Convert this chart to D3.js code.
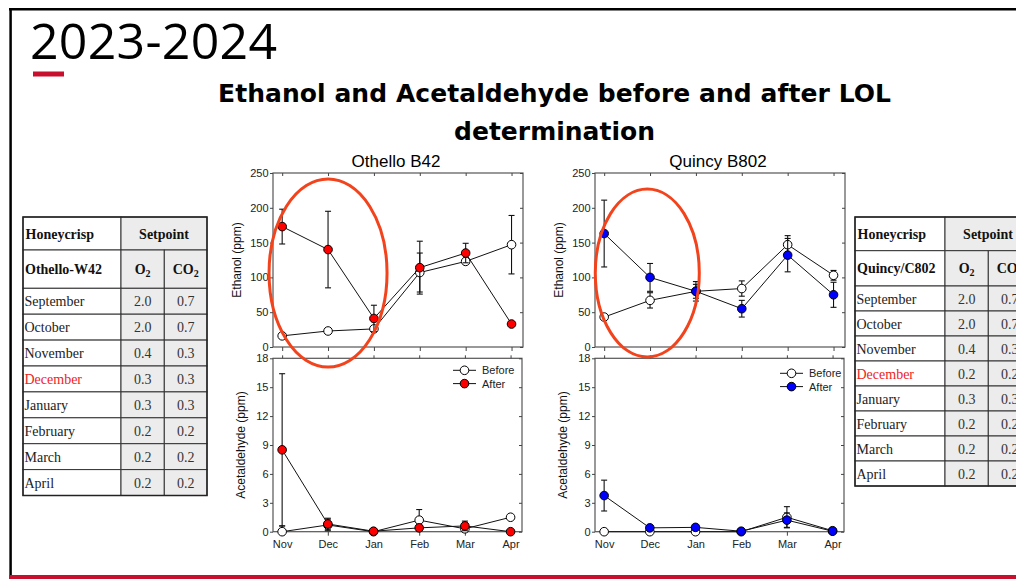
<!DOCTYPE html>
<html>
<head>
<meta charset="utf-8">
<script src="https://cdn.jsdelivr.net/npm/d3@7"></script>
<style>
  body { margin: 0; background: #fff; }
  svg { display: block; }
</style>
</head>
<body>
<script>
// chart data
var months = ["Nov", "Dec", "Jan", "Feb", "Mar", "Apr"];
var ethTicks = [0, 50, 100, 150, 200, 250];
var aceTicks = [0, 3, 6, 9, 12, 15, 18];

// Othello B42
var othEthBefore    = [16, 23, 26, 107, 123, 147];
var othEthBeforeErr = [0, 0, 0, 28, 4, 42];
var othEthAfter     = [173, 140, 41, 114, 135, 33];
var othEthAfterErr  = [25, 55, 19, 38, 14, 0];
var othAceBefore    = [0, 0.7, 0, 1.2, 0.3, 1.5];
var othAceBeforeErr = [0.6, 0.6, 0, 1.1, 0.3, 0];
var othAceAfter     = [8.5, 0.8, 0.05, 0.4, 0.6, 0];
var othAceAfterErr  = [7.9, 0.6, 0, 0.3, 0.5, 0];

// Quincy B802
var quiEthBefore    = [43, 67, 80, 84, 147, 103];
var quiEthBeforeErr = [0, 11, 14, 11, 13, 7];
var quiEthAfter     = [163, 100, 80, 55, 132, 75];
var quiEthAfterErr  = [48, 20, 10, 12, 24, 18];
var quiAceBefore    = [0, 0, 0, 0, 1.5, 0.1];
var quiAceBeforeErr = [0, 0, 0, 0, 1.1, 0.3];
var quiAceAfter     = [3.75, 0.4, 0.45, 0.05, 1.2, 0.05];
var quiAceAfterErr  = [1.6, 0.1, 0.1, 0, 0.75, 0];

// setpoint tables
var setMonths = ["September", "October", "November", "December", "January", "February", "March", "April"];
var othO2  = ["2.0", "2.0", "0.4", "0.3", "0.3", "0.2", "0.2", "0.2"];
var othCO2 = ["0.7", "0.7", "0.3", "0.3", "0.3", "0.2", "0.2", "0.2"];
var quiO2  = ["2.0", "2.0", "0.4", "0.2", "0.3", "0.2", "0.2", "0.2"];
var quiCO2 = ["0.7", "0.7", "0.3", "0.2", "0.3", "0.2", "0.2", "0.2"];

var W = 1016, H = 579;
var sans = "'Liberation Sans', Arial, sans-serif";
var serif = "'Liberation Serif', 'Times New Roman', serif";

var svg = d3.select("body").append("svg").attr("width", W).attr("height", H);
svg.append("rect").attr("width", W).attr("height", H).attr("fill", "#fff");

// slide frame
svg.append("line").attr("x1", 9).attr("x2", W).attr("y1", 9.2).attr("y2", 9.2)
  .attr("stroke", "#000").attr("stroke-width", 2.5);
svg.append("line").attr("x1", 10.6).attr("x2", 10.6).attr("y1", 8).attr("y2", 576)
  .attr("stroke", "#000").attr("stroke-width", 2.5);
svg.append("rect").attr("x", 9).attr("y", 575).attr("width", W).attr("height", 4).attr("fill", "#c8102e");

// titles
svg.append("text").attr("x", 30).attr("y", 59).attr("textLength", 247)
  .style("font-family", "'Open Sans', sans-serif").style("font-size", "50px").attr("fill", "#000")
  .text("2023-2024");
svg.append("rect").attr("x", 33).attr("y", 71.5).attr("width", 31).attr("height", 5).attr("fill", "#c8102e");

svg.append("text").attr("x", 218).attr("y", 102).attr("textLength", 673)
  .style("font-family", "'DejaVu Sans', sans-serif").style("font-weight", "bold").style("font-size", "25px")
  .text("Ethanol and Acetaldehyde before and after LOL");
svg.append("text").attr("x", 554.5).attr("y", 140).attr("text-anchor", "middle")
  .style("font-family", "'DejaVu Sans', sans-serif").style("font-weight", "bold").style("font-size", "25px")
  .text("determination");

function drawSeries(g, x, y, vals, errs, fill) {
  var line = d3.line().x(function(d, i) { return x(i); }).y(function(d) { return y(d); });
  g.append("path").datum(vals).attr("d", line)
    .attr("fill", "none").attr("stroke", "#111").attr("stroke-width", 1);

  var eb = g.append("g").selectAll("g").data(vals.map(function(v, i) { return {i: i, v: v, e: errs[i]}; })
    .filter(function(d) { return d.e > 0; }))
    .enter().append("g").attr("stroke", "#111").attr("stroke-width", 1.1);
  eb.append("line").attr("x1", function(d) { return x(d.i); }).attr("x2", function(d) { return x(d.i); })
    .attr("y1", function(d) { return y(Math.max(0, d.v - d.e)); }).attr("y2", function(d) { return y(d.v + d.e); });
  eb.append("line").attr("x1", function(d) { return x(d.i) - 3; }).attr("x2", function(d) { return x(d.i) + 3; })
    .attr("y1", function(d) { return y(d.v + d.e); }).attr("y2", function(d) { return y(d.v + d.e); });
  eb.append("line").attr("x1", function(d) { return x(d.i) - 3; }).attr("x2", function(d) { return x(d.i) + 3; })
    .attr("y1", function(d) { return y(Math.max(0, d.v - d.e)); }).attr("y2", function(d) { return y(Math.max(0, d.v - d.e)); });

  g.append("g").selectAll("circle").data(vals).enter().append("circle")
    .attr("cx", function(d, i) { return x(i); }).attr("cy", function(d) { return y(d); })
    .attr("r", 4.3).attr("fill", fill).attr("stroke", "#000").attr("stroke-width", 1);
}

function styleAxis(a) {
  a.select(".domain").remove();
  a.selectAll("line").attr("stroke", "#444");
  a.selectAll("text").style("font-family", sans).style("font-size", "11px").attr("fill", "#222");
}

function drawPanel(cfg) {
  var g = svg.append("g");
  var x = d3.scaleLinear().domain([-0.2, 5.25]).range([cfg.x0, cfg.x1]);
  var y = d3.scaleLinear().domain([0, cfg.max]).range([cfg.y0, cfg.y1]);
  var idx = d3.range(months.length);

  g.append("rect").attr("x", cfg.x0).attr("y", cfg.y1).attr("width", cfg.x1 - cfg.x0).attr("height", cfg.y0 - cfg.y1)
    .attr("fill", "none").attr("stroke", "#555").attr("stroke-width", 1.2);

  g.append("g").attr("transform", "translate(" + cfg.x0 + ",0)")
    .call(d3.axisLeft(y).tickValues(cfg.ticks).tickSize(3).tickPadding(1.5)).call(styleAxis);
  g.append("g").attr("transform", "translate(" + cfg.x1 + ",0)")
    .call(d3.axisRight(y).tickValues(cfg.ticks).tickSize(-3).tickFormat("")).call(styleAxis);
  g.append("g").attr("transform", "translate(0," + cfg.y1 + ")")
    .call(d3.axisTop(x).tickValues(idx).tickSize(cfg.labels ? 3 : -3).tickFormat("")).call(styleAxis);
  g.append("g").attr("transform", "translate(0," + cfg.y0 + ")")
    .call(d3.axisBottom(x).tickValues(idx).tickSize(4).tickPadding(5)
      .tickFormat(function(d) { return cfg.labels ? months[d] : ""; })).call(styleAxis);

  g.append("text").attr("transform", "translate(" + (cfg.x0 - cfg.labelOff) + "," + ((cfg.y0 + cfg.y1) / 2) + ") rotate(-90)")
    .attr("text-anchor", "middle").style("font-family", sans).style("font-size", "12px").attr("fill", "#111")
    .text(cfg.ylabel);

  drawSeries(g, x, y, cfg.before, cfg.beforeErr, "#fff");
  drawSeries(g, x, y, cfg.after, cfg.afterErr, cfg.color);

  if (cfg.legend) {
    var lg = g.append("g").attr("transform", "translate(" + (cfg.x1 - cfg.legend[0]) + "," + (cfg.y1 + cfg.legend[1]) + ")");
    [["Before", "#fff"], ["After", cfg.color]].forEach(function(s, k) {
      lg.append("line").attr("x1", 0).attr("x2", 23).attr("y1", k * 13.3).attr("y2", k * 13.3)
        .attr("stroke", "#111").attr("stroke-width", 1);
      lg.append("circle").attr("cx", 11.5).attr("cy", k * 13.3).attr("r", 4.3)
        .attr("fill", s[1]).attr("stroke", "#000");
      lg.append("text").attr("x", 29).attr("y", k * 13.3 + 4).style("font-family", sans)
        .style("font-size", "11px").attr("fill", "#222").text(s[0]);
    });
  }
  return x;
}

function drawPlace(cfg) {
  svg.append("text").attr("x", (cfg.x0 + cfg.x1) / 2 - 2).attr("y", 167).attr("text-anchor", "middle")
    .style("font-family", sans).style("font-size", "17px").attr("fill", "#000").text(cfg.title);
  var xs = drawPanel({x0: cfg.x0, x1: cfg.x1, y0: 347, y1: 173, max: 250, ticks: ethTicks,
    ylabel: "Ethanol (ppm)", labelOff: 32, labels: false,
    before: cfg.ethB, beforeErr: cfg.ethBE, after: cfg.ethA, afterErr: cfg.ethAE, color: cfg.color});
  drawPanel({x0: cfg.x0, x1: cfg.x1 - 1, y0: 531.7, y1: 358.3, max: 18, ticks: aceTicks,
    ylabel: "Acetaldehyde (ppm)", labelOff: 28, labels: true, legend: cfg.legend,
    before: cfg.aceB, beforeErr: cfg.aceBE, after: cfg.aceA, afterErr: cfg.aceAE, color: cfg.color});
  // highlight ellipse around Nov-Jan
  svg.append("ellipse").attr("cx", xs(cfg.ell[0])).attr("cy", cfg.ell[1]).attr("rx", cfg.ell[2]).attr("ry", cfg.ell[3])
    .attr("fill", "none").attr("stroke", "#f2431c").attr("stroke-width", 3);
}

drawPlace({title: "Othello B42", x0: 273, x1: 523, color: "#ff0000", legend: [69, 12],
  ethB: othEthBefore, ethBE: othEthBeforeErr, ethA: othEthAfter, ethAE: othEthAfterErr,
  aceB: othAceBefore, aceBE: othAceBeforeErr, aceA: othAceAfter, aceAE: othAceAfterErr,
  ell: [1, 273, 59, 94]});
drawPlace({title: "Quincy B802", x0: 595, x1: 845, color: "#0000ff", legend: [64, 15],
  ethB: quiEthBefore, ethBE: quiEthBeforeErr, ethA: quiEthAfter, ethAE: quiEthAfterErr,
  aceB: quiAceBefore, aceBE: quiAceBeforeErr, aceA: quiAceAfter, aceAE: quiAceAfterErr,
  ell: [0.94, 273, 52, 84]});

// setpoint tables
function drawTable(cfg) {
  var g = svg.append("g");
  var cx = cfg.cols, ry = cfg.rows;
  var gray = "#ececec", line = "#333";
  function cell(c0, c1, r, fill) {
    g.append("rect").attr("x", cx[c0]).attr("y", ry[r]).attr("width", cx[c1] - cx[c0]).attr("height", ry[r + 1] - ry[r])
      .attr("fill", fill).attr("stroke", line).attr("stroke-width", 1);
  }
  function txt(xp, r, s, opts) {
    var t = g.append("text").attr("x", xp).attr("y", (ry[r] + ry[r + 1]) / 2 + 5)
      .attr("text-anchor", opts.anchor || "start").style("font-family", serif).style("font-size", "14px")
      .style("font-weight", opts.bold ? "bold" : "normal").attr("fill", opts.color || "#222");
    t.append("tspan").text(s);
    if (opts.sub) t.append("tspan").attr("dy", 3).style("font-size", "10px").text(opts.sub);
    return t;
  }
  cell(0, 1, 0, "#fff"); cell(1, 3, 0, gray);
  cell(0, 1, 1, "#fff"); cell(1, 2, 1, gray); cell(2, 3, 1, gray);
  txt(cx[0] + 2.5, 0, "Honeycrisp", {bold: true, color: "#111"});
  txt((cx[1] + cx[3]) / 2, 0, "Setpoint", {bold: true, anchor: "middle", color: "#111"});
  txt(cx[0] + 2, 1, cfg.name, {bold: true, color: "#111"});
  txt((cx[1] + cx[2]) / 2, 1, "O", {bold: true, anchor: "middle", sub: "2", color: "#111"});
  txt((cx[2] + cx[3]) / 2, 1, "CO", {bold: true, anchor: "middle", sub: "2", color: "#111"});
  setMonths.forEach(function(m, i) {
    var r = i + 2;
    cell(0, 1, r, "#fff"); cell(1, 2, r, gray); cell(2, 3, r, gray);
    txt(cx[0] + 1.5, r, m, {color: m === "December" ? "#f01c1c" : "#222"});
    txt((cx[1] + cx[2]) / 2, r, cfg.o2[i], {anchor: "middle", color: "#333"});
    txt((cx[2] + cx[3]) / 2, r, cfg.co2[i], {anchor: "middle", color: "#333"});
  });
  g.append("rect").attr("x", cx[0]).attr("y", ry[0]).attr("width", cx[3] - cx[0]).attr("height", ry[ry.length - 1] - ry[0])
    .attr("fill", "none").attr("stroke", "#222").attr("stroke-width", 1.5);
}

drawTable({name: "Othello-W42", o2: othO2, co2: othCO2,
  cols: [23, 121, 164.3, 207],
  rows: [217, 250, 288.3, 314.2, 340.1, 366, 391.9, 417.8, 443.7, 469.6, 495.5]});
drawTable({name: "Quincy/C802", o2: quiO2, co2: quiCO2,
  cols: [855, 945, 988.3, 1031],
  rows: [217, 250.7, 286, 311, 336, 361, 386, 411, 436, 461, 486]});
</script>
</body>
</html>
